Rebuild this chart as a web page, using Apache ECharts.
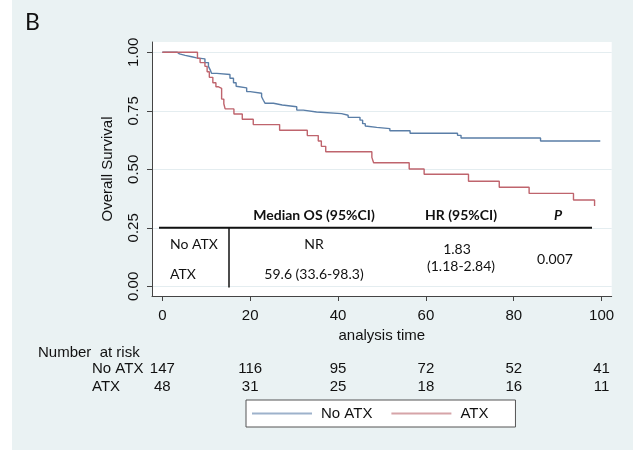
<!DOCTYPE html>
<html><head><meta charset="utf-8">
<script src="https://cdn.jsdelivr.net/npm/echarts@6/dist/echarts.min.js"></script>
<style>html,body{margin:0;padding:0;background:#fff}#c{width:633px;height:452px}</style>
</head><body><div id="c"></div>
<script>
// ---- data ----
const xTicks = [0, 20, 40, 60, 80, 100];
const yTicks = [0, 0.25, 0.5, 0.75, 1];
const seriesNames = ['No ATX', 'ATX'];
// Kaplan-Meier step points [time, survival]
const noAtx = [[0,1],[3.4,0.993],[3.9,0.987],[5.2,0.981],[6.7,0.976],[7.8,0.972],[9.7,0.956],[10.5,0.94],[10.9,0.925],[11.2,0.91],[12.4,0.905],[15.4,0.889],[16.2,0.87],[16.8,0.855],[17.1,0.848],[19.2,0.832],[20.0,0.825],[22.6,0.81],[23.0,0.795],[23.4,0.782],[25.3,0.775],[27.3,0.767],[30.6,0.753],[32.1,0.745],[35.1,0.738],[40.8,0.731],[42.3,0.722],[45.0,0.71],[45.6,0.695],[46.2,0.685],[46.5,0.679],[48.8,0.674],[51.8,0.665],[56.4,0.654],[67.2,0.645],[68.0,0.634],[86.1,0.621],[99.7,0.621]];
const atx = [[0,1],[8.0,0.974],[8.6,0.956],[9.7,0.94],[10.2,0.917],[10.7,0.893],[11.5,0.87],[12.2,0.853],[12.7,0.846],[13.5,0.80],[14.0,0.78],[14.3,0.758],[16.3,0.736],[18.2,0.714],[20.7,0.691],[26.7,0.667],[33.0,0.644],[35.5,0.621],[36.2,0.598],[37.2,0.575],[47.7,0.551],[48.1,0.528],[56.2,0.501],[59.6,0.479],[69.7,0.449],[76.7,0.423],[83.5,0.397],[93.6,0.369],[98.4,0.343]];
// number at risk
const riskTitle = 'Number  at risk';
const riskNoATX = [147, 116, 95, 72, 52, 41];
const riskATX = [48, 31, 25, 18, 16, 11];
// inset table
const tableHeaders = ['Median OS (95%CI)', 'HR (95%CI)', 'P'];
const tableRows = ['No ATX', 'ATX'];
const medianOS = ['NR', '59.6 (33.6-98.3)'];
const hrText = ['1.83', '(1.18-2.84)'];
const pText = '0.007';
const panelLabel = 'B';

// ---- styles ----
const AX = '"Liberation Sans", Arial, sans-serif';
const CAL = 'Lato, "Open Sans", sans-serif';
const blue = '#5a7ea7';
const red = '#bf646d';

const chart = echarts.init(document.getElementById('c'), null, {renderer: 'canvas'});

function txt(text, x, y, font, align, valign, extra) {
  return Object.assign({
    type: 'text', silent: true,
    style: {text: text, x: x, y: y, font: font, fill: '#111',
      align: align, textAlign: align, verticalAlign: valign, textVerticalAlign: valign}
  }, extra || {});
}

const option = {
  backgroundColor: '#ffffff',
  animation: false,
  grid: {left: 152, top: 42, width: 459.7, height: 254, show: true, backgroundColor: '#ffffff', borderWidth: 0, containLabel: false, outerBoundsMode: 'none'},
  xAxis: {
    type: 'value', min: -2.35, max: 102.3,
    name: 'analysis time', nameLocation: 'middle', nameGap: 28,
    nameTextStyle: {fontFamily: AX, fontSize: 15, color: '#111'},
    axisLine: {show: true, onZero: false, lineStyle: {color: '#444', width: 1}},
    axisTick: {show: true, length: 5, lineStyle: {color: '#444'}, customValues: xTicks},
    axisLabel: {customValues: xTicks, margin: 12, fontFamily: AX, fontSize: 15, color: '#111'},
    splitLine: {show: false}
  },
  yAxis: {
    type: 'value', min: -0.0415, max: 1.044,
    name: 'Overall Survival', nameLocation: 'middle', nameGap: 37, nameRotate: 90,
    nameTextStyle: {fontFamily: AX, fontSize: 15, color: '#111'},
    axisLine: {show: true, onZero: false, lineStyle: {color: '#444', width: 1}},
    axisTick: {show: true, length: 5, lineStyle: {color: '#444'}, customValues: yTicks},
    axisLabel: {customValues: yTicks, rotate: 90, margin: 11, fontFamily: AX, fontSize: 15, color: '#111',
      formatter: v => v.toFixed(2)},
    splitLine: {show: true, lineStyle: {color: '#e4edf0', width: 1}}
  },
  legend: {
    left: 246, top: 400, orient: 'horizontal',
    backgroundColor: '#fff', borderColor: '#555', borderWidth: 1, borderRadius: 0,
    padding: [6, 27, 6, 6], itemGap: 19, itemWidth: 60, itemHeight: 2,
    textStyle: {fontFamily: AX, fontSize: 15, color: '#111', padding: [0, 0, 0, 4]},
    data: [
      {name: seriesNames[0], icon: 'rect', itemStyle: {color: '#9db2cb'}},
      {name: seriesNames[1], icon: 'rect', itemStyle: {color: '#d6a4a8'}}
    ]
  },
  series: [
    {name: seriesNames[0], type: 'line', step: 'end', data: noAtx, symbol: 'none', showSymbol: false,
      lineStyle: {color: blue, width: 1.4}, itemStyle: {color: blue}, z: 3},
    {name: seriesNames[1], type: 'line', step: 'end', data: atx, symbol: 'none', showSymbol: false,
      lineStyle: {color: red, width: 1.4}, itemStyle: {color: red}, z: 3}
  ]
};
chart.setOption(option);

// ---- graphics: background, panel label, inset table, risk table ----
const px = t => chart.convertToPixel({xAxisIndex: 0}, t);
const g = [];
g.push({type: 'rect', z: -10, silent: true, shape: {x: 12, y: 0, width: 621, height: 450}, style: {fill: '#eaf2f3'}});
g.push(txt(panelLabel, 25, 22.5, '23px ' + CAL, 'left', 'middle'));

// inset table
g.push(txt(tableHeaders[0], 314, 215, 'bold 14px ' + CAL, 'center', 'middle'));
g.push(txt(tableHeaders[1], 461, 215, 'bold 14px ' + CAL, 'center', 'middle'));
g.push(txt(tableHeaders[2], 558, 215, 'italic bold 14px ' + CAL, 'center', 'middle'));
g.push({type: 'line', silent: true, z: 5, shape: {x1: 159, y1: 227.8, x2: 592, y2: 227.8}, style: {stroke: '#111', lineWidth: 2}});
g.push({type: 'line', silent: true, z: 5, shape: {x1: 229, y1: 228, x2: 229, y2: 287.5}, style: {stroke: '#111', lineWidth: 1.5}});
g.push(txt(tableRows[0], 170, 244, '14px ' + CAL, 'left', 'middle'));
g.push(txt(tableRows[1], 170, 274.5, '14px ' + CAL, 'left', 'middle'));
g.push(txt(medianOS[0], 314, 244, '14px ' + CAL, 'center', 'middle'));
g.push(txt(medianOS[1], 314, 274.5, '14px ' + CAL, 'center', 'middle'));
g.push(txt(hrText[0], 457, 249.5, '14px ' + CAL, 'center', 'middle'));
g.push(txt(hrText[1], 461, 266, '14px ' + CAL, 'center', 'middle'));
g.push(txt(pText, 555, 259, '14px ' + CAL, 'center', 'middle'));

// number at risk
g.push(txt(riskTitle, 38, 352.5, '15px ' + AX, 'left', 'middle'));
g.push(txt(seriesNames[0], 92, 369, '15px ' + AX, 'left', 'middle'));
g.push(txt(seriesNames[1], 92, 386.5, '15px ' + AX, 'left', 'middle'));
xTicks.forEach((t, i) => {
  const x = px(t);
  g.push(txt(String(riskNoATX[i]), x, 369, '15px ' + AX, 'center', 'middle'));
  g.push(txt(String(riskATX[i]), x, 386.5, '15px ' + AX, 'center', 'middle'));
});
chart.setOption({graphic: {elements: g}});
</script></body></html>
